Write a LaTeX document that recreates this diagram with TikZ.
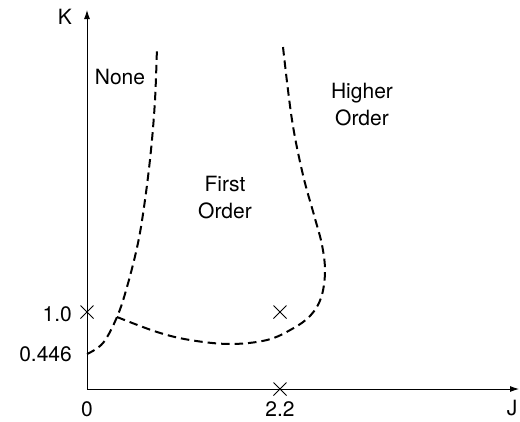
\documentclass[tikz,border=0pt]{standalone}
\usepackage{fontspec}
\setmainfont{TeX Gyre Heros}
\usetikzlibrary{arrows.meta,shapes.misc}

\begin{document}
\begin{tikzpicture}[
  x=1pt, y=-1pt,
  lbl/.style={font=\fontsize{21}{27}\selectfont, align=center, inner sep=0pt},
  xmark/.style={draw, cross out, minimum size=12pt, inner sep=0pt, line width=1pt},
  boundary/.style={dash pattern=on 8.5pt off 5pt, line width=2pt},
  axis/.style={line width=0.9pt, -{Latex[length=9pt,width=6pt]}}
]
  \useasboundingbox (0,0) rectangle (520,421);

  % axes
  \coordinate (O) at (87,389);
  \coordinate (Ktip) at (87,10);
  \coordinate (Jtip) at (519,389);
  \draw[axis] (O) -- (Ktip);
  \draw[axis] (O) -- (Jtip);

  % phase boundaries
  \draw[boundary] plot[smooth, tension=0.6] coordinates
    {(87,354) (103,343) (117,317) (127,287) (138,243) (145,200) (151,150) (155,100) (157,47)};
  \draw[boundary] plot[smooth, tension=0.6] coordinates
    {(117,317) (157,332) (190,340) (230,344) (267,340) (292,329) (310,316) (321,298)
     (325,272) (322,245) (314,215) (303,175) (292,120) (283,47)};

  % special points
  \node[xmark] (pk) at (87,312) {};
  \node[xmark] (pin) at (280,312) {};
  \node[xmark] (pj) at (280,389) {};

  % axis labels
  \node[lbl] (klab) at (65,17) {K};
  \node[lbl] (jlab) at (512,408) {J};
  \node[lbl] (jzero) at (87,409) {0};
  \node[lbl] (jcrit) at (280,409) {2.2};
  \node[lbl, anchor=east] (kone) at (72,314) {1.0};
  \node[lbl, anchor=east] (kcrit) at (72,354) {0.446};

  % regions
  \node[lbl] (none) at (120,77) {None};
  \node[lbl] (first) at (225,197.5) {First\\Order};
  \node[lbl] (higher) at (362,105) {Higher\\Order};
\end{tikzpicture}
\end{document}
